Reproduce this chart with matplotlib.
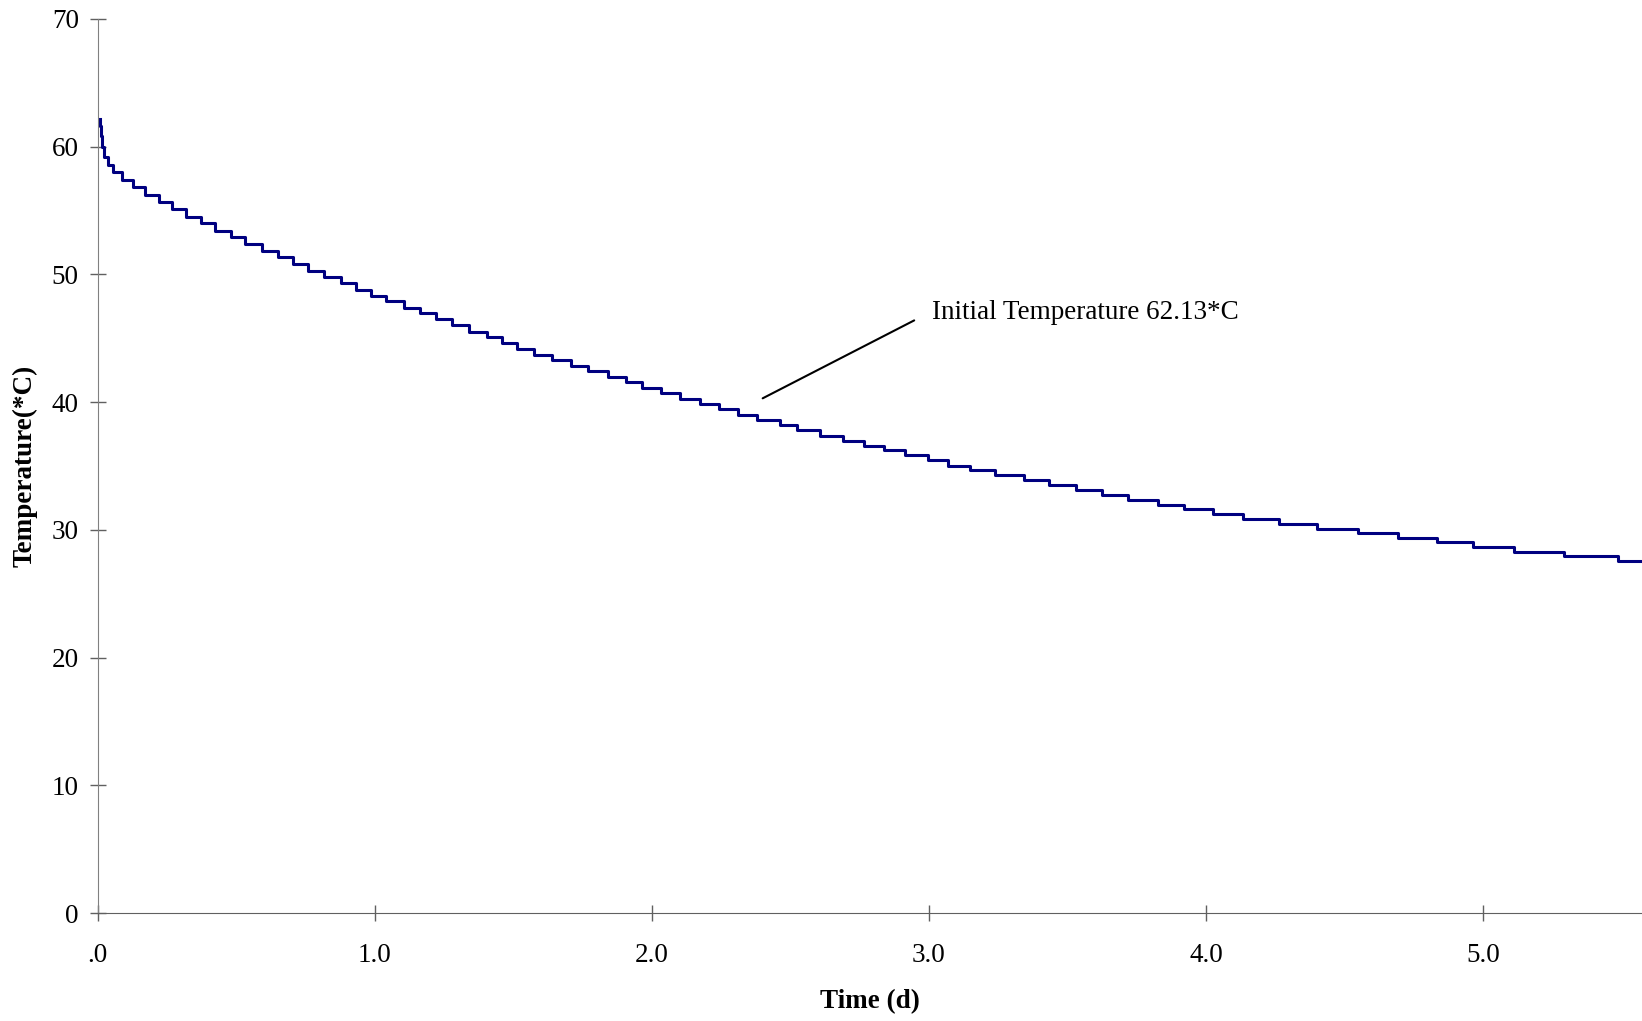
import matplotlib
matplotlib.use("Agg")
import matplotlib.pyplot as plt

# time (days) at which the temperature steps down, and level after each step
time_d = [0.0065, 0.0087, 0.0112, 0.0141, 0.0166, 0.0238, 0.0354, 0.0556, 0.0859, 0.1256,
          0.1700, 0.2217, 0.2664, 0.3181, 0.3711, 0.4227, 0.4794, 0.5310, 0.5913, 0.6513,
          0.7032, 0.7596, 0.8173, 0.8765, 0.9318, 0.9848, 1.0401, 1.1061, 1.1628, 1.2224,
          1.2794, 1.3397, 1.4058, 1.4588, 1.5130, 1.5755, 1.6404, 1.7069, 1.7693, 1.8415,
          1.9065, 1.9653, 2.0329, 2.1014, 2.1736, 2.2422, 2.3097, 2.3812, 2.4625, 2.5249,
          2.6069, 2.6888, 2.7657, 2.8390, 2.9137, 2.9978, 3.0700, 3.1484, 3.2386, 3.3433,
          3.4336, 3.5300, 3.6260, 3.7199, 3.8260, 3.9209, 4.0245, 4.1329, 4.2639, 4.4000,
          4.5480, 4.6946, 4.8354, 4.9654, 5.1134, 5.2939, 5.4888, 5.5744]
temp_c = [62.13, 61.62, 60.83, 60.21, 59.97, 59.21, 58.56, 57.99, 57.39, 56.82,
          56.19, 55.64, 55.10, 54.52, 54.00, 53.42, 52.93, 52.38, 51.83, 51.34,
          50.81, 50.29, 49.82, 49.30, 48.78, 48.33, 47.92, 47.39, 46.94, 46.47,
          46.02, 45.49, 45.08, 44.63, 44.16, 43.71, 43.30, 42.83, 42.40, 41.99,
          41.55, 41.13, 40.72, 40.27, 39.88, 39.46, 39.00, 38.58, 38.19, 37.80,
          37.38, 36.98, 36.59, 36.23, 35.84, 35.45, 35.03, 34.67, 34.26, 33.91,
          33.52, 33.12, 32.73, 32.34, 31.97, 31.61, 31.25, 30.85, 30.49, 30.10,
          29.74, 29.37, 29.03, 28.64, 28.30, 27.94, 27.54, 27.54]

x_ticks = [0, 1, 2, 3, 4, 5]
x_tick_labels = [".0", "1.0", "2.0", "3.0", "4.0", "5.0"]
y_ticks = [0, 10, 20, 30, 40, 50, 60, 70]

plt.rcParams["font.family"] = ["Liberation Serif", "DejaVu Serif"]
fs = 19.5

fig = plt.figure(figsize=(16.42, 10.21), dpi=100)
ax = fig.add_axes([0.0596, 0.1056, 0.9404, 0.8759])

ax.step(time_d, temp_c, where="post", color="#000080", lw=2.2)

# annotation line and label
ax.annotate("", xy=(2.40, 40.3), xytext=(2.947, 46.4),
            arrowprops=dict(arrowstyle="-", color="black", lw=1.5, shrinkA=0, shrinkB=0))
ax.text(3.01, 47.05, "Initial Temperature 62.13*C", fontsize=fs, ha="left", va="center")

ax.set_xlim(0, 5.5744)
ax.set_ylim(0, 70)
ax.set_xticks(x_ticks)
ax.set_xticklabels(x_tick_labels)
ax.set_yticks(y_ticks)

for side in ["top", "right"]:
    ax.spines[side].set_visible(False)
ax.spines["left"].set_color("#808080")
ax.spines["bottom"].set_color("#606060")
ax.tick_params(axis="both", direction="inout", length=11.5, width=1, colors="#606060",
               labelcolor="black", labelsize=fs)
ax.tick_params(axis="x", pad=16)
ax.tick_params(axis="y", pad=8)

ax.set_xlabel("Time (d)", fontsize=fs, fontweight="bold", labelpad=15)
ax.set_ylabel("Temperature(*C)", fontsize=fs, fontweight="bold", labelpad=10)

fig.savefig("out.png", dpi=100)
